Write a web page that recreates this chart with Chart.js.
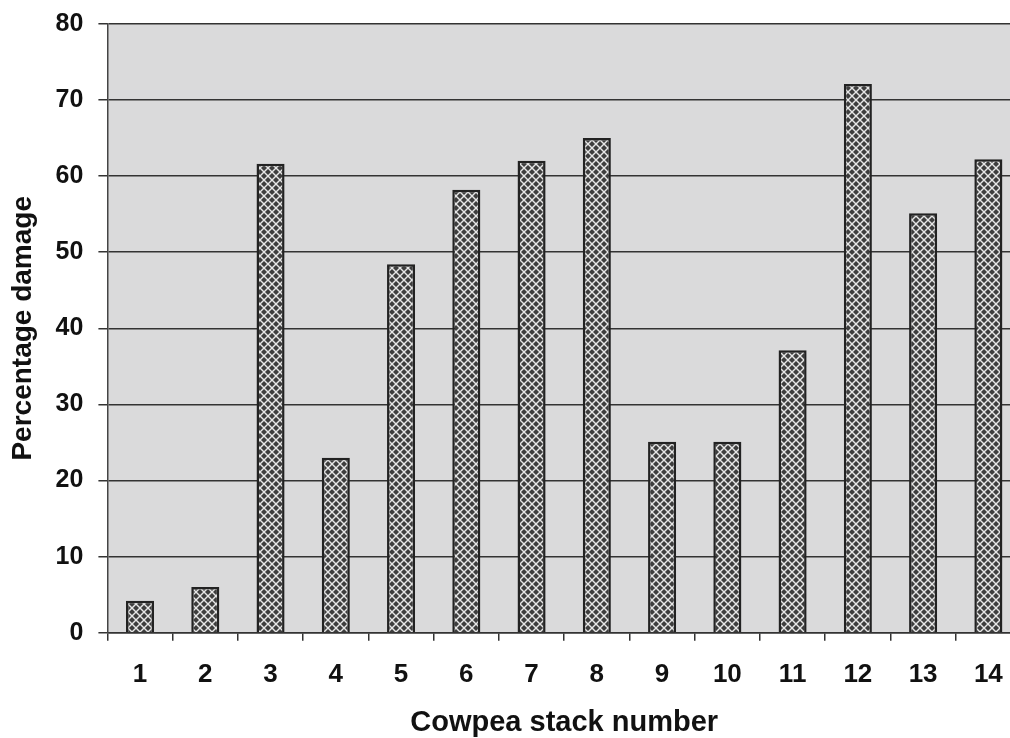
<!DOCTYPE html>
<html>
<head>
<meta charset="utf-8">
<script src="https://cdn.jsdelivr.net/npm/chart.js@4.4.1/dist/chart.umd.min.js"></script>
<style>
  html, body { margin: 0; padding: 0; background: #fff; overflow: hidden; }
  #wrap { width: 1021px; height: 738px; }
</style>
</head>
<body>
<div id="wrap"><canvas id="damageChart" width="1021" height="738"></canvas></div>
<script>
// Chart data
const stackNumbers = ['1', '2', '3', '4', '5', '6', '7', '8', '9', '10', '11', '12', '13', '14'];
const damagePercent = [4.2, 6.0, 61.6, 23.0, 48.4, 58.2, 62.0, 65.0, 25.1, 25.1, 37.1, 72.1, 55.1, 62.2];
const yTicks = [0, 10, 20, 30, 40, 50, 60, 70, 80];

// Checkered diamond fill for the bars
function makeDiamondPattern(ctx) {
    const tile = document.createElement('canvas');
    tile.width = 8;
    tile.height = 8;
    const t = tile.getContext('2d');
    t.fillStyle = '#e6e6e6';
    t.fillRect(0, 0, 8, 8);
    t.fillStyle = '#3e3e3e';
    const diamond = (cx, cy, r) => {
        t.beginPath();
        t.moveTo(cx, cy - r);
        t.lineTo(cx + r, cy);
        t.lineTo(cx, cy + r);
        t.lineTo(cx - r, cy);
        t.closePath();
        t.fill();
    };
    [[4, 4], [0, 0], [8, 0], [0, 8], [8, 8]].forEach(p => diamond(p[0], p[1], 3));
    return ctx.createPattern(tile, 'repeat');
}

// Grey plot background
const plotBackground = {
    id: 'plotBackground',
    beforeDraw(chart) {
        const { ctx, chartArea } = chart;
        ctx.save();
        ctx.fillStyle = '#dadadb';
        ctx.fillRect(chartArea.left, chartArea.top, chartArea.right - chartArea.left, chartArea.bottom - chartArea.top);
        ctx.restore();
    }
};

const ctx = document.getElementById('damageChart').getContext('2d');
const font = "'Liberation Sans', Arial, sans-serif";

new Chart(ctx, {
    type: 'bar',
    data: {
        labels: stackNumbers,
        datasets: [{
            label: 'Percentage damage',
            data: damagePercent,
            backgroundColor: makeDiamondPattern(ctx),
            borderColor: '#222',
            borderWidth: 2.5,
            barPercentage: 0.43,
            categoryPercentage: 1
        }]
    },
    options: {
        responsive: false,
        animation: false,
        devicePixelRatio: 1,
        layout: {
            padding: { top: 18, left: 0, right: 0, bottom: 0 }
        },
        plugins: {
            legend: { display: false },
            tooltip: { enabled: false }
        },
        scales: {
            x: {
                offset: true,
                grid: {
                    offset: true,
                    drawOnChartArea: false,
                    tickLength: 8,
                    color: '#333',
                    lineWidth: 1.5
                },
                border: { color: '#333', width: 1.5 },
                ticks: {
                    color: '#111',
                    padding: 18,
                    maxRotation: 0,
                    font: { family: font, size: 26, weight: 'bold' }
                },
                title: {
                    display: true,
                    text: 'Cowpea stack number',
                    color: '#111',
                    padding: { top: 0, bottom: 1 },
                    font: { family: font, size: 29, weight: 'bold', lineHeight: 1 }
                }
            },
            y: {
                min: 0,
                max: 80,
                afterBuildTicks: axis => {
                    axis.ticks = yTicks.map(v => ({ value: v }));
                },
                grid: {
                    color: '#333',
                    lineWidth: 1.5,
                    tickLength: 9
                },
                border: { color: '#444', width: 1.5 },
                ticks: {
                    color: '#111',
                    padding: 15,
                    font: { family: font, size: 25, weight: 'bold', lineHeight: 0.7 }
                },
                title: {
                    display: true,
                    text: 'Percentage damage',
                    color: '#111',
                    padding: { top: 6, bottom: 1 },
                    font: { family: font, size: 28, weight: 'bold' }
                }
            }
        }
    },
    plugins: [plotBackground]
});
</script>
</body>
</html>
